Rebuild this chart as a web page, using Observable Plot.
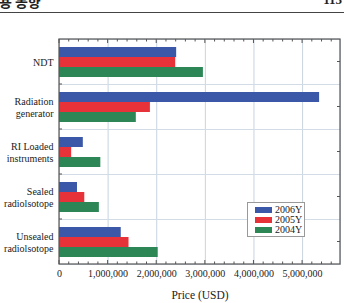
<!DOCTYPE html>
<html>
<head>
<meta charset="utf-8">
<script src="https://cdn.jsdelivr.net/npm/d3@7"></script>
<script src="https://cdn.jsdelivr.net/npm/@observablehq/plot@0.6"></script>
<style>
  html, body { margin: 0; padding: 0; background: #fff; }
  #page { position: relative; width: 344px; height: 303px; overflow: hidden; font-family: "Liberation Serif", "DejaVu Serif", serif; }
  #head { position: absolute; left: 0; top: 0; width: 344px; height: 13px; overflow: hidden; border-bottom: 1.5px solid #444; box-sizing: border-box; }
  #head .l { position: absolute; left: -14px; top: -9px; font: bold 14px "Noto Sans CJK KR", sans-serif; color: #222; }
  #head .r { position: absolute; right: 2px; top: -8px; font: bold 13px "Liberation Serif", serif; color: #222; }
  #chart { position: absolute; left: 0; top: 14px; }
  #chart svg text { font-family: "Liberation Serif", serif; }
  #legend { position: absolute; left: 247px; top: 202px; width: 58px; height: 35px; border: 1px solid #999; background: #fff; box-sizing: border-box; padding: 2px 0 0 7px; font-size: 10px; line-height: 10px; color: #222; }
  #legend .row { display: flex; align-items: center; height: 10px; white-space: nowrap; }
  #legend .sw { width: 17px; height: 6px; margin-right: 3px; flex: none; }
</style>
</head>
<body>
<div id="page">
  <div id="head"><span class="l">이용 동향</span><span class="r">115</span></div>
  <div id="chart"></div>
  <div id="legend"></div>
</div>
<script>
// Categories and yearly prices (USD)
const categories = ["NDT", "Radiation generator", "RI Loaded instruments", "Sealed radiolsotope", "Unsealed radiolsotope"];
const categoryLabels = ["NDT", "Radiation\ngenerator", "RI Loaded\ninstruments", "Sealed\nradiolsotope", "Unsealed\nradiolsotope"];
const years = ["2006Y", "2005Y", "2004Y"];
const values2006 = [2410000, 5350000, 490000, 370000, 1270000];
const values2005 = [2390000, 1870000, 250000, 520000, 1430000];
const values2004 = [2960000, 1580000, 850000, 820000, 2030000];
const xTicks = [0, 1000000, 2000000, 3000000, 4000000, 5000000];
const yearColors = ["#3b57a7", "#e8323a", "#2d8656"];

const series = [values2006, values2005, values2004];
const data = [];
categories.forEach((c, i) => {
  years.forEach((y, j) => data.push({category: c, year: y, value: series[j][i]}));
});

const mL = 59, mR = 4, mT = 25, mB = 39, W = 344, H = 289;
const serif = "'Liberation Serif', serif";

const plot = Plot.plot({
  width: W, height: H,
  marginTop: mT, marginBottom: mB, marginLeft: mL, marginRight: mR,
  style: {fontFamily: serif, fontSize: "10px", color: "#222", background: "transparent"},
  x: {domain: [0, 5780000]},
  y: {domain: years, paddingInner: 0, paddingOuter: 0.75, axis: null},
  fy: {domain: categories, padding: 0},
  color: {domain: years, range: yearColors},
  marks: [
    Plot.gridX({ticks: xTicks.slice(1), stroke: "#c8d4e0", strokeOpacity: 1}),
    Plot.frame({stroke: "#d2dce6"}),
    Plot.barX(data, {x: "value", y: "year", fy: "category", fill: "year"}),
    Plot.axisX({ticks: xTicks, tickFormat: d => d3.format(",")(d), tickSize: 0, tickPadding: 5,
      label: null, fontSize: 10, fontFamily: serif}),
    Plot.axisX({ticks: [], tickSize: 0, label: "Price (USD)", labelAnchor: "center", labelArrow: "none",
      labelOffset: 34, fontSize: 11.5, fontFamily: serif, dx: -6}),
    Plot.axisFy({anchor: "left", tickFormat: d => categoryLabels[categories.indexOf(d)], tickSize: 0, tickPadding: 6,
      label: null, lineHeight: 1.2, fontSize: 10, fontFamily: serif})
  ]
});
document.getElementById("chart").appendChild(plot);

// Outer frame and small inward ticks along the plot border
const svg = d3.select(plot);
const xs = plot.scale("x");
const x0 = mL, x1 = W - mR, y0 = mT, y1 = H - mB;
const g = svg.append("g").attr("stroke", "#555").attr("fill", "none");
const minor = d3.range(0, 5780001, 200000);
minor.forEach(v => {
  const px = xs.apply(v);
  const len = v % 1000000 === 0 ? 4 : 2.5;
  g.append("line").attr("x1", px).attr("x2", px).attr("y1", y1).attr("y2", y1 - len);
  g.append("line").attr("x1", px).attr("x2", px).attr("y1", y0).attr("y2", y0 + len);
});
const step = (y1 - y0) / categories.length;
categories.forEach((c, i) => {
  const yb = y0 + step * i;
  if (i > 0) g.append("line").attr("x1", x0).attr("x2", x0 + 3).attr("y1", yb).attr("y2", yb);
  g.append("line").attr("x1", x1).attr("x2", x1 - 3).attr("y1", yb + step / 2).attr("y2", yb + step / 2);
});
g.append("rect").attr("x", x0).attr("y", y0).attr("width", x1 - x0).attr("height", y1 - y0).attr("stroke-width", 1.2);

// Legend
const legend = d3.select("#legend");
years.forEach((y, j) => {
  const row = legend.append("div").attr("class", "row");
  row.append("div").attr("class", "sw").style("background", yearColors[j]);
  row.append("span").text(y);
});
</script>
</body>
</html>
